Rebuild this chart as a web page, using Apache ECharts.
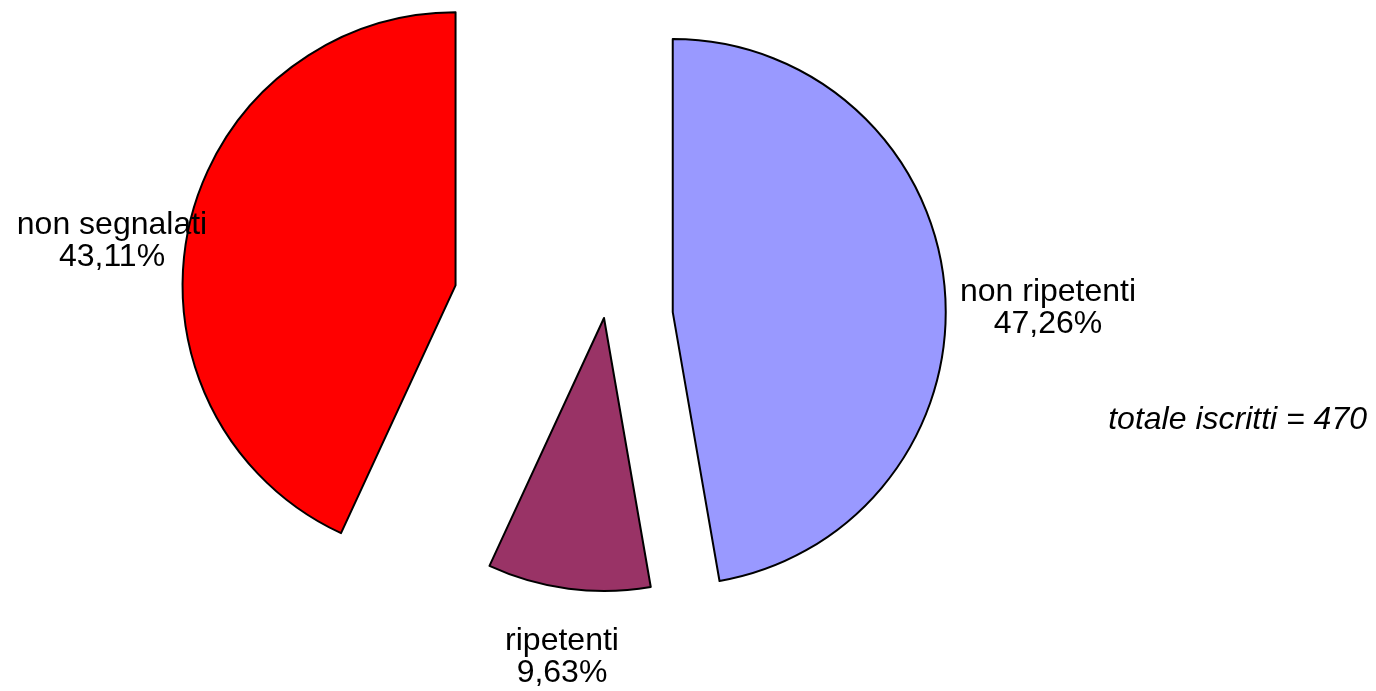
<!DOCTYPE html>
<html><head><meta charset="utf-8">
<script src="https://cdn.jsdelivr.net/npm/echarts@6/dist/echarts.min.js"></script>
<style>html,body{margin:0;padding:0;background:#fff}#main{width:1376px;height:691px}</style>
</head><body><div id="main"></div>
<script>
// ---- data ----
const categories = ['non ripetenti', 'ripetenti', 'non segnalati'];
const percentages = [47.26, 9.63, 43.11];
const colors = ['#9999FF', '#993366', '#FF0000'];
const totalText = 'totale iscritti = 470';

// ---- layout ----
const pieCenter = [604, 318];
const pieRadius = 273;
const explode = [69, 0, 152];               // explosion distance of each slice (px)
const labelPoints = [[1048, 308], [562, 657], [112, 241]];
const fontFamily = '"Liberation Sans", Arial, sans-serif';

const total = percentages.reduce((a, b) => a + b, 0);
let cum = 0;
const centers = percentages.map((v, i) => {
  const mid = (cum + v / 2) / total * 2 * Math.PI;
  cum += v;
  return [pieCenter[0] + explode[i] * Math.sin(mid), pieCenter[1] - explode[i] * Math.cos(mid)];
});

const fmt = p => p.name + '\n' + p.value.toFixed(2).replace('.', ',') + '%';

const series = categories.map((cat, i) => ({
  type: 'pie',
  center: centers[i],
  radius: pieRadius,
  startAngle: 90,
  clockwise: true,
  silent: true,
  avoidLabelOverlap: false,
  animation: false,
  z: 2 + i,
  label: {
    show: true, formatter: fmt, color: '#000', fontSize: 32, lineHeight: 32,
    fontFamily: fontFamily
  },
  labelLine: { show: false },
  emphasis: { disabled: true },
  labelLayout: p => p.dataIndex === i
    ? { x: labelPoints[i][0], y: labelPoints[i][1], align: 'center', verticalAlign: 'middle' }
    : {},
  data: categories.map((c, j) => ({
    name: c,
    value: percentages[j],
    itemStyle: j === i
      ? { color: colors[j], borderColor: '#000', borderWidth: 2 }
      : { color: 'rgba(0,0,0,0)', borderWidth: 0 },
    label: { show: j === i }
  }))
}));

const chart = echarts.init(document.getElementById('main'), null, { renderer: 'canvas' });
chart.setOption({
  backgroundColor: '#fff',
  animation: false,
  title: {
    text: totalText, right: 9, top: 404, padding: 0,
    textStyle: { fontSize: 32, fontStyle: 'italic', fontWeight: 'normal', color: '#000', fontFamily: fontFamily, lineHeight: 32 }
  },
  series: series
});
</script></body></html>
